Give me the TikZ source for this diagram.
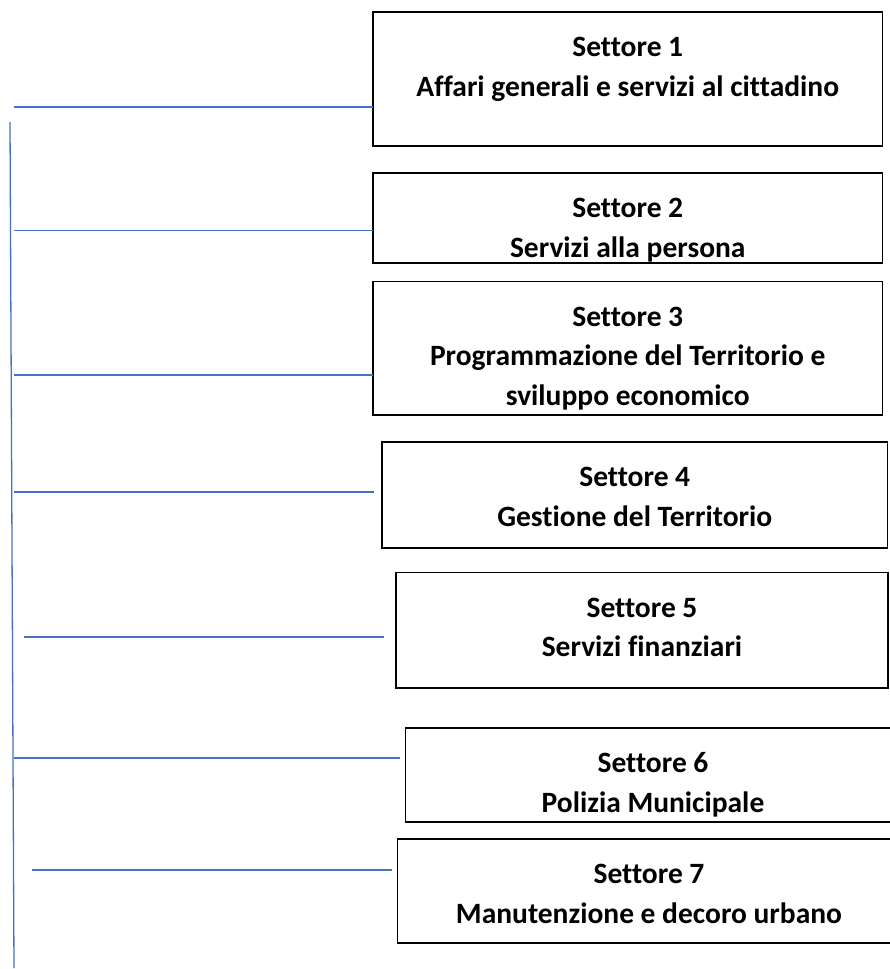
\documentclass[tikz,border=0pt]{standalone}
\usepackage{fontspec}
\setmainfont{Carlito}[Ligatures=NoCommon]
\definecolor{linkblue}{RGB}{68,114,196}
\begin{document}
\begin{tikzpicture}[x=1pt,y=-1pt,
  sbox/.style={draw=black, line width=1.8pt, inner sep=0pt, outer sep=0pt, rectangle},
  lbl/.style={font=\fontsize{29.5}{39.5}\selectfont\bfseries, align=center, inner sep=0pt, anchor=base},
  link/.style={draw=linkblue, line width=1.3pt}]
\clip (0,0) rectangle (890,969);
\fill[white] (0,0) rectangle (890,969);
% boxes
\node[sbox, minimum width=509.5pt, minimum height=134pt] (s1) at (627.75,79) {};
\node[sbox, minimum width=509.5pt, minimum height=90pt] (s2) at (627.75,218) {};
\node[sbox, minimum width=509.5pt, minimum height=133.5pt] (s3) at (627.75,348.25) {};
\node[sbox, minimum width=505.5pt, minimum height=106pt] (s4) at (634.75,495) {};
\node[sbox, minimum width=492pt, minimum height=115.5pt] (s5) at (642,630.25) {};
\node[sbox, minimum width=495.5pt, minimum height=94pt] (s6) at (653.25,775) {};
\node[sbox, minimum width=503.5pt, minimum height=104pt] (s7) at (649.25,891) {};
% texts (anchor = baseline of last line)
\node[lbl] (t1) at (627.75,96) {Settore 1\\Affari generali e servizi al cittadino};
\node[lbl] (t2) at (627.75,257) {Settore 2\\Servizi alla persona};
\node[lbl] (t3) at (627.75,405) {Settore 3\\Programmazione del Territorio e\\sviluppo economico};
\node[lbl] (t4) at (634.75,526) {Settore 4\\Gestione del Territorio};
\node[lbl] (t5) at (642,656.5) {Settore 5\\Servizi finanziari};
\node[lbl] (t6) at (653,812) {Settore 6\\Polizia Municipale};
\node[lbl] (t7) at (649,923) {Settore 7\\Manutenzione e decoro urbano};
% trunk
\coordinate (top) at (10,122);
\coordinate (bot) at (14,968);
\draw[link] (top) -- (bot);
% branches
\coordinate (a1) at (14,107);   \coordinate (b1) at (373,107);
\coordinate (a2) at (14,230.5); \coordinate (b2) at (373,230.5);
\coordinate (a3) at (14,375);   \coordinate (b3) at (373,375);
\coordinate (a4) at (14,492);   \coordinate (b4) at (374,492);
\coordinate (a5) at (24,637);   \coordinate (b5) at (384,637);
\coordinate (a6) at (14,758);   \coordinate (b6) at (400,758);
\coordinate (a7) at (32,870);   \coordinate (b7) at (392,870);
\foreach \i in {1,...,7} { \draw[link] (a\i) -- (b\i); }
\end{tikzpicture}
\end{document}
